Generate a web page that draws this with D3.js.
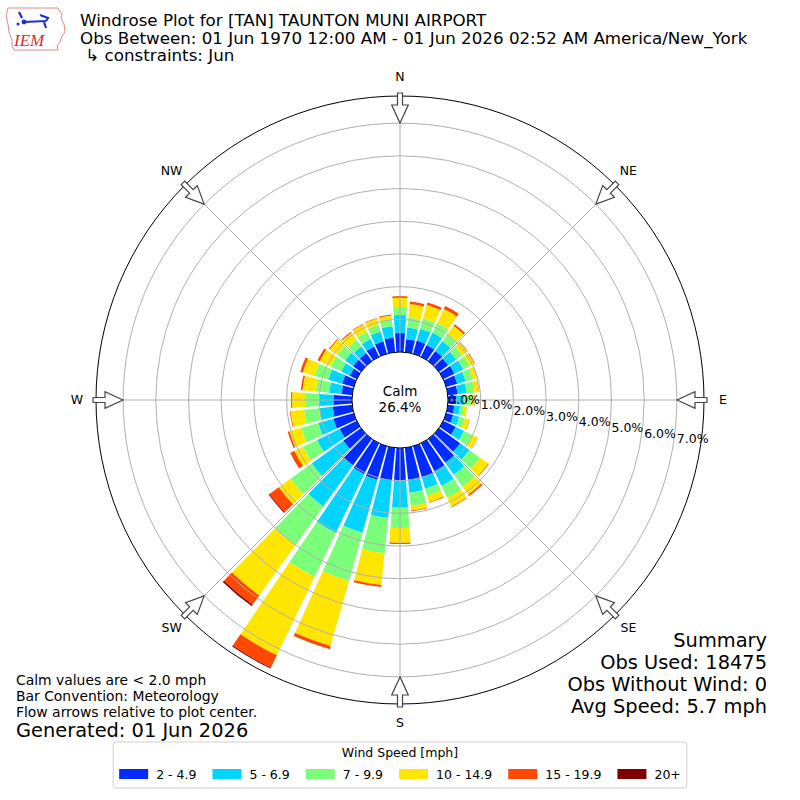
<!DOCTYPE html>
<html>
<head>
<meta charset="utf-8">
<script src="https://cdn.jsdelivr.net/npm/d3@7"></script>
<style>
  body { margin: 0; background: #fff; }
  text { font-family: 'DejaVu Sans', sans-serif; fill: #000; }
</style>
</head>
<body>
<div id="screen"></div>
<script>
// Directions (degrees, meteorological convention)
const directions = [0, 10, 20, 30, 40, 50, 60, 70, 80, 90, 100, 110, 120, 130, 140, 150, 160, 170,
  180, 190, 200, 210, 220, 230, 240, 250, 260, 270, 280, 290, 300, 310, 320, 330, 340, 350]
const compassLabels = ['N', 'NE', 'E', 'SE', 'S', 'SW', 'W', 'NW']
const compassAngles = [0, 45, 90, 135, 180, 225, 270, 315]

const speedBins = ['2 - 4.9', '5 - 6.9', '7 - 9.9', '10 - 14.9', '15 - 19.9', '20+']
const binColors = ['#002bff', '#00d4ff', '#7bff7b', '#ffe600', '#ff4800', '#800000']

// frequency (%) per direction for each speed bin
const pct2to5 = [0.58, 0.40, 0.42, 0.40, 0.38, 0.35, 0.38, 0.35, 0.30, 0.25, 0.20, 0.22, 0.42, 0.80, 0.90, 0.95, 0.98, 0.98,
  0.98, 1.00, 1.07, 1.05, 1.00, 0.67, 0.58, 0.65, 0.60, 0.57, 0.33, 0.37, 0.24, 0.30, 0.30, 0.35, 0.40, 0.45]
const pct5to7 = [0.55, 0.36, 0.38, 0.42, 0.37, 0.30, 0.30, 0.27, 0.28, 0.25, 0.18, 0.20, 0.29, 0.35, 0.45, 0.50, 0.37, 0.40,
  0.85, 1.16, 1.68, 2.00, 1.55, 1.19, 0.77, 0.48, 0.42, 0.43, 0.38, 0.44, 0.29, 0.30, 0.25, 0.25, 0.30, 0.35]
const pct7to10 = [0.25, 0.31, 0.32, 0.33, 0.27, 0.23, 0.22, 0.23, 0.24, 0.20, 0.12, 0.18, 0.29, 0.40, 0.45, 0.40, 0.23, 0.40,
  0.62, 1.08, 1.53, 1.49, 1.45, 0.80, 0.48, 0.54, 0.46, 0.44, 0.41, 0.43, 0.36, 0.30, 0.25, 0.25, 0.22, 0.20]
const pct10to15 = [0.28, 0.41, 0.43, 0.47, 0.31, 0.18, 0.16, 0.15, 0.14, 0.12, 0.10, 0.14, 0.17, 0.31, 0.30, 0.30, 0.20, 0.15,
  0.45, 0.98, 2.07, 2.66, 1.90, 0.44, 0.29, 0.38, 0.42, 0.40, 0.41, 0.38, 0.37, 0.28, 0.27, 0.25, 0.20, 0.13]
const pct15to20 = [0.05, 0.08, 0.08, 0.10, 0.06, 0.02, 0.02, 0.01, 0.01, 0.01, 0.00, 0.01, 0.01, 0.02, 0.05, 0.02, 0.02, 0.02,
  0.04, 0.06, 0.10, 0.42, 0.35, 0.35, 0.14, 0.05, 0.02, 0.03, 0.05, 0.08, 0.07, 0.03, 0.03, 0.02, 0.02, 0.03]
const pct20plus = [0, 0, 0, 0, 0, 0, 0, 0, 0, 0, 0, 0, 0, 0, 0, 0, 0, 0,
  0, 0, 0, 0.03, 0.05, 0.03, 0, 0, 0, 0, 0, 0, 0, 0, 0, 0, 0, 0]

const radialTicks = [0, 1, 2, 3, 4, 5, 6, 7]
const calmPct = '26.4%'

const titleLines = [
  'Windrose Plot for [TAN] TAUNTON MUNI AIRPORT',
  'Obs Between: 01 Jun 1970 12:00 AM - 01 Jun 2026 02:52 AM America/New_York',
  ' \u21b3 constraints: Jun'
]
const noteLines = ['Calm values are < 2.0 mph', 'Bar Convention: Meteorology', 'Flow arrows relative to plot center.']
const generated = 'Generated: 01 Jun 2026'
const summaryLines = ['Summary', 'Obs Used: 18475', 'Obs Without Wind: 0', 'Avg Speed: 5.7 mph']

const width = 800
const height = 800
const cx = 400
const cy = 400

const svg = d3.select('#screen').append('svg')
  .attr('width', width)
  .attr('height', height)

// radial scale: 0% sits on the calm circle
const r = d3.scaleLinear().domain([0, 7.83]).range([48, 304])
const rad = d => d * Math.PI / 180
const halfWidth = rad(4.25)

const keys = ['b0', 'b1', 'b2', 'b3', 'b4', 'b5']
const series = [pct2to5, pct5to7, pct7to10, pct10to15, pct15to20, pct20plus]
const rows = directions.map((dir, i) => {
  const row = { dir }
  keys.forEach((k, j) => { row[k] = series[j][i] })
  return row
})
const stacked = d3.stack().keys(keys)(rows)

const rose = svg.append('g').attr('transform', `translate(${cx},${cy})`)
const arc = d3.arc()

stacked.forEach((layer, k) => {
  rose.append('g').selectAll('path')
    .data(layer.filter(d => d[1] - d[0] > 0))
    .join('path')
    .attr('d', d => arc({
      innerRadius: r(d[0]),
      outerRadius: r(d[1]),
      startAngle: rad(d.data.dir) - halfWidth,
      endAngle: rad(d.data.dir) + halfWidth
    }))
    .attr('fill', binColors[k])
})

// grid on top of the bars
rose.append('g').selectAll('circle')
  .data(radialTicks.filter(t => t > 0))
  .join('circle')
  .attr('r', d => r(d))
  .attr('fill', 'none')
  .attr('stroke', '#b0b0b0')
  .attr('stroke-width', 1)

rose.append('g').selectAll('line')
  .data(compassAngles)
  .join('line')
  .attr('x1', d => r(0) * Math.sin(rad(d)))
  .attr('y1', d => -r(0) * Math.cos(rad(d)))
  .attr('x2', d => r.range()[1] * Math.sin(rad(d)))
  .attr('y2', d => -r.range()[1] * Math.cos(rad(d)))
  .attr('stroke', '#b0b0b0')
  .attr('stroke-width', 1)

// outer frame
rose.append('circle')
  .attr('r', r.range()[1])
  .attr('fill', 'none')
  .attr('stroke', '#000')
  .attr('stroke-width', 1)

// calm circle
rose.append('circle')
  .attr('r', r(0))
  .attr('fill', '#fff')
  .attr('stroke', '#000')
  .attr('stroke-width', 1)

rose.append('text')
  .attr('x', 0).attr('y', -8)
  .attr('text-anchor', 'middle')
  .attr('dominant-baseline', 'middle')
  .style('font-size', '13.5px')
  .text('Calm')
rose.append('text')
  .attr('x', 0).attr('y', 8)
  .attr('text-anchor', 'middle')
  .attr('dominant-baseline', 'middle')
  .style('font-size', '13.5px')
  .text(calmPct)

// radial labels
rose.append('g').selectAll('text')
  .data(radialTicks)
  .join('text')
  .attr('x', d => r(d))
  .attr('y', d => (r(d) - r(0)) * 0.174)
  .attr('dominant-baseline', 'middle')
  .style('font-size', '12.5px')
  .text(d => d.toFixed(1) + '%')

// flow arrows pointing to the centre
const outer = r.range()[1]
const arrowPath = [
  [0, -(outer - 27)],
  [8.3, -(outer - 9)],
  [2.5, -(outer - 9)],
  [2.5, -(outer + 3)],
  [-2.5, -(outer + 3)],
  [-2.5, -(outer - 9)],
  [-8.3, -(outer - 9)]
]
rose.append('g').selectAll('path')
  .data(compassAngles)
  .join('path')
  .attr('d', 'M' + arrowPath.map(p => p.join(',')).join('L') + 'Z')
  .attr('transform', d => `rotate(${d})`)
  .attr('fill', '#fff')
  .attr('stroke', '#444')
  .attr('stroke-width', 1.2)

rose.append('g').selectAll('text')
  .data(compassLabels)
  .join('text')
  .attr('x', (d, i) => 323 * Math.sin(rad(compassAngles[i])))
  .attr('y', (d, i) => -323 * Math.cos(rad(compassAngles[i])))
  .attr('text-anchor', 'middle')
  .attr('dominant-baseline', 'middle')
  .style('font-size', '12.5px')
  .text(d => d)

// title
svg.append('g').selectAll('text')
  .data(titleLines)
  .join('text')
  .attr('x', 80)
  .attr('y', (d, i) => 26 + i * 17.6)
  .attr('xml:space', 'preserve')
  .style('font-size', '16.7px')
  .style('white-space', 'pre')
  .text(d => d)

// logo
const logo = svg.append('g')
logo.append('path')
  .attr('d', 'M8,8 L58,8 L60,12 L62,14 L61,18 L64,24 L65,32 L62,36 L60,42 L57,46 L58,50 L14,50 L12,46 L12,40 L9,32 L8,24 L6,16 Z')
  .attr('fill', '#fff')
  .attr('stroke', '#e08a8a')
  .attr('stroke-width', 1)
logo.append('path')
  .attr('d', 'M24,22 L46,21 M19,12 L22,18 M40,15 L48,18 L46,21 M44,22 L46,28')
  .attr('fill', 'none')
  .attr('stroke', '#1a2fd6')
  .attr('stroke-width', 2.2)
logo.append('circle').attr('cx', 24).attr('cy', 22).attr('r', 2.4).attr('fill', '#1a2fd6')
logo.append('circle').attr('cx', 18).attr('cy', 24).attr('r', 1.5).attr('fill', '#1a2fd6')
logo.append('text')
  .attr('x', 14).attr('y', 46)
  .style('font-family', "'Liberation Serif', serif")
  .style('font-style', 'italic')
  .style('font-size', '17px')
  .style('fill', '#d62d2d')
  .text('IEM')

// notes bottom left
svg.append('g').selectAll('text')
  .data(noteLines)
  .join('text')
  .attr('x', 16)
  .attr('y', (d, i) => 685 + i * 16)
  .style('font-size', '13.9px')
  .text(d => d)
svg.append('text')
  .attr('x', 16)
  .attr('y', 737)
  .style('font-size', '19.4px')
  .text(generated)

// summary bottom right
svg.append('g').selectAll('text')
  .data(summaryLines)
  .join('text')
  .attr('x', 767)
  .attr('y', (d, i) => 647 + i * 22)
  .attr('text-anchor', 'end')
  .style('font-size', '19.4px')
  .text(d => d)

// legend
const legend = svg.append('g')
const legendBox = legend.append('rect')
  .attr('y', 742)
  .attr('height', 46)
  .attr('rx', 3)
  .attr('fill', '#fff')
  .attr('stroke', '#d0d0d0')
legend.append('text')
  .attr('x', cx)
  .attr('y', 757)
  .attr('text-anchor', 'middle')
  .style('font-size', '12.5px')
  .text('Wind Speed [mph]')

const items = legend.append('g')
let xPos = 0
speedBins.forEach((label, i) => {
  items.append('rect')
    .attr('x', xPos).attr('y', 769)
    .attr('width', 29).attr('height', 10)
    .attr('fill', binColors[i])
  const t = items.append('text')
    .attr('x', xPos + 37).attr('y', 778.5)
    .style('font-size', '12.5px')
    .text(label)
  xPos += 37 + t.node().getComputedTextLength() + 16
})
const itemsWidth = xPos - 16
items.attr('transform', `translate(${cx - itemsWidth / 2},0)`)
legendBox.attr('x', cx - itemsWidth / 2 - 6).attr('width', itemsWidth + 12)
</script>
</body>
</html>
